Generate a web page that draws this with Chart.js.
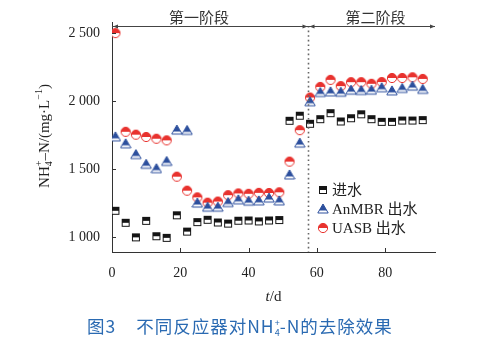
<!DOCTYPE html>
<html><head><meta charset="utf-8">
<script src="https://cdn.jsdelivr.net/npm/chart.js@4/dist/chart.umd.min.js"></script>
<style>
html,body{margin:0;padding:0;background:#fff;}
#wrap{position:relative;width:483px;height:338px;}
#cap{position:absolute;left:87px;top:312px;font-family:"Noto Sans CJK SC","Noto Sans",sans-serif;font-size:17.5px;letter-spacing:1px;line-height:22px;color:#2a6ab2;white-space:nowrap;}
#cap sub,#cap sup{font-size:9px;letter-spacing:0;}
</style></head>
<body>
<div id="wrap"><canvas id="c" width="483" height="338"></canvas>
<div id="cap"><span style="margin-right:20px">图3</span>不同反应器对NH<sub style="vertical-align:-3px">4</sub><sup style="vertical-align:7px;margin-left:-5px">+</sup>-N的去除效果</div>
</div>
<script>
// ---- data ----
const days = [1,4,7,10,13,16,19,22,25,28,31,34,37,40,43,46,49,52,55,58,61,64,67,70,73,76,79,82,85,88,91];
const influent = [1193,1105,998,1119,1006,994,1160,1040,1110,1127,1107,1099,1120,1122,1115,1122,1125,1855,1892,1833,1867,1911,1850,1874,1903,1867,1847,1847,1857,1857,1860];
const anmbr = [1737,1686,1607,1535,1503,1556,1787,1784,1250,1220,1220,1254,1274,1264,1266,1287,1266,1457,1691,1995,2063,2068,2065,2080,2078,2080,2098,2075,2093,2110,2086];
const uasb = [2500,1774,1753,1736,1723,1711,1444,1341,1292,1253,1261,1308,1321,1318,1325,1324,1329,1555,1786,2026,2104,2156,2110,2139,2139,2127,2140,2170,2170,2175,2163];
const seriesNames = ["进水","AnMBR 出水","UASB 出水"];
const xTicks = [0,20,40,60,80];
const yTicks = [1000,1500,2000,2500];
const phaseLabels = ["第一阶段","第二阶段"];
const phaseSplit = 57.3;

const RED='#e8322e', BLUE='#2c4f9d', BLACK='#151515';

function marker(type,color){
  const s=12, c=document.createElement('canvas'); c.width=s; c.height=s;
  const g=c.getContext('2d'); const cx=s/2, cy=s/2;
  g.lineWidth=1;
  if(type==='square'){
    g.fillStyle='#fff'; g.fillRect(2.5,2.5,7,7);
    g.fillStyle=color; g.fillRect(2.5,2.5,7,3.5);
    g.strokeStyle=color; g.strokeRect(2.5,2.5,7,7);
  } else if(type==='circle'){
    g.beginPath(); g.arc(cx,cy,4.6,0,Math.PI*2); g.fillStyle='#fff'; g.fill();
    g.beginPath(); g.arc(cx,cy,4.6,Math.PI,0); g.closePath(); g.fillStyle=color; g.fill();
    g.beginPath(); g.arc(cx,cy,4.6,0,Math.PI*2); g.strokeStyle=color; g.stroke();
  } else {
    g.beginPath(); g.moveTo(cx,cy-5); g.lineTo(cx-5.2,cy+4); g.lineTo(cx+5.2,cy+4); g.closePath();
    g.fillStyle='#fff'; g.fill();
    g.save(); g.clip(); g.fillStyle=color; g.fillRect(0,0,s,cy+1.5); g.restore();
    g.strokeStyle=color; g.stroke();
  }
  return c;
}
const mk=[marker('square',BLACK),marker('triangle',BLUE),marker('circle',RED)];
const serif='"Liberation Serif","DejaVu Serif",serif';
const toPts=v=>days.map((d,i)=>({x:d,y:v[i]}));

const deco={
  id:'deco',
  afterDraw(chart){
    const {ctx,chartArea:a,scales:{x,y}}=chart;
    ctx.save();
    ctx.strokeStyle='#333'; ctx.lineWidth=1;
    ctx.beginPath();
    xTicks.forEach(v=>{const p=Math.round(x.getPixelForValue(v))+0.5; ctx.moveTo(p,a.bottom); ctx.lineTo(p,a.bottom-4);});
    yTicks.forEach(v=>{const p=Math.round(y.getPixelForValue(v))+0.5; ctx.moveTo(a.left,p); ctx.lineTo(a.left+4,p);});
    ctx.moveTo(a.left+0.5,a.top-4); ctx.lineTo(a.left+0.5,a.top);
    ctx.stroke();
    const sx=Math.round(x.getPixelForValue(phaseSplit))+0.5;
    ctx.strokeStyle='#666'; ctx.lineWidth=1.6; ctx.setLineDash([1.6,3]);
    ctx.beginPath(); ctx.moveTo(sx,a.top); ctx.lineTo(sx,a.bottom); ctx.stroke();
    ctx.setLineDash([]);
    const ty=a.top+0.5;
    ctx.strokeStyle='#444'; ctx.lineWidth=1;
    ctx.beginPath(); ctx.moveTo(a.left,ty); ctx.lineTo(a.right,ty); ctx.stroke();
    ctx.fillStyle='#444';
    const arrow=(px,dir)=>{ctx.beginPath();ctx.moveTo(px,ty);ctx.lineTo(px-dir*5,ty-2);ctx.lineTo(px-dir*5,ty+2);ctx.closePath();ctx.fill();};
    arrow(a.left+1,-1); arrow(sx-1,1); arrow(sx+1,-1); arrow(a.right,1);
    ctx.font='15px "Noto Sans CJK SC",sans-serif'; ctx.fillStyle='#333';
    ctx.textAlign='center'; ctx.textBaseline='middle';
    ctx.fillText(phaseLabels[0],x.getPixelForValue(25.5),17);
    ctx.fillText(phaseLabels[1],x.getPixelForValue(77.2),17);
    const lx=323, rows=[190,209,228];
    chart.data.datasets.forEach((ds,i)=>{
      ctx.drawImage(ds.pointStyle,lx-6,rows[i]-6);
      ctx.textAlign='left'; ctx.fillStyle='#222';
      ctx.font='15px '+serif+',"Noto Sans CJK SC"';
      ctx.fillText(ds.label,lx+9,rows[i]+1);
    });
    ctx.textAlign='center'; ctx.fillStyle='#222';
    const cxp=(a.left+a.right)/2;
    ctx.font='italic 15px '+serif; const w1=ctx.measureText('t').width;
    ctx.font='15px '+serif; const w2=ctx.measureText('/d').width;
    ctx.textAlign='left';
    ctx.font='italic 15px '+serif; ctx.fillText('t',cxp-(w1+w2)/2,297);
    ctx.font='15px '+serif; ctx.fillText('/d',cxp-(w1+w2)/2+w1,297);
    ctx.translate(45,136); ctx.rotate(-Math.PI/2);
    const parts=[['NH',15,0],['4',10,4],['+',10,-6],['\u2013N/(mg\u00b7L',15,0],['\u22121',10,-6],[')',15,0]];
    const ws=parts.map(p=>{ctx.font=p[1]+'px '+serif; return ctx.measureText(p[0]).width;});
    const adv=[ws[0],0,Math.max(ws[1],ws[2]),ws[3],ws[4],ws[5]];
    const tw=adv.reduce((s,v)=>s+v,0);
    let px=-tw/2; ctx.textBaseline='middle';
    parts.forEach((p,i)=>{ctx.font=p[1]+'px '+serif; ctx.fillText(p[0],px,p[2]); px+=adv[i];});
    ctx.restore();
  }
};

new Chart(document.getElementById('c'),{
  type:'scatter',
  data:{datasets:[
    {label:seriesNames[0],data:toPts(influent),pointStyle:mk[0]},
    {label:seriesNames[1],data:toPts(anmbr),pointStyle:mk[1]},
    {label:seriesNames[2],data:toPts(uasb),pointStyle:mk[2]}
  ]},
  options:{
    responsive:false,animation:false,events:[],
    layout:{padding:{top:26,right:48,left:0,bottom:0}},
    plugins:{legend:{display:false},tooltip:{enabled:false}},
    scales:{
      x:{type:'linear',min:0,max:94.6,
        afterBuildTicks:s=>{s.ticks=xTicks.map(v=>({value:v}));},
        afterFit:s=>{s.height=86;},
        grid:{display:false},border:{display:true,color:'#333',width:1},
        ticks:{padding:5,color:'#222',font:{family:serif,size:14},maxRotation:0}},
      y:{type:'linear',min:890,max:2552,
        afterBuildTicks:s=>{s.ticks=yTicks.map(v=>({value:v}));},
        afterFit:s=>{s.width=112;},
        grid:{display:false},border:{display:true,color:'#333',width:1},
        ticks:{padding:4,color:'#222',font:{family:serif,size:14},
          callback:v=>String(v).replace(/\B(?=(\d{3})+(?!\d))/g,' ')}}
    }
  },
  plugins:[deco]
});
</script>
</body></html>
